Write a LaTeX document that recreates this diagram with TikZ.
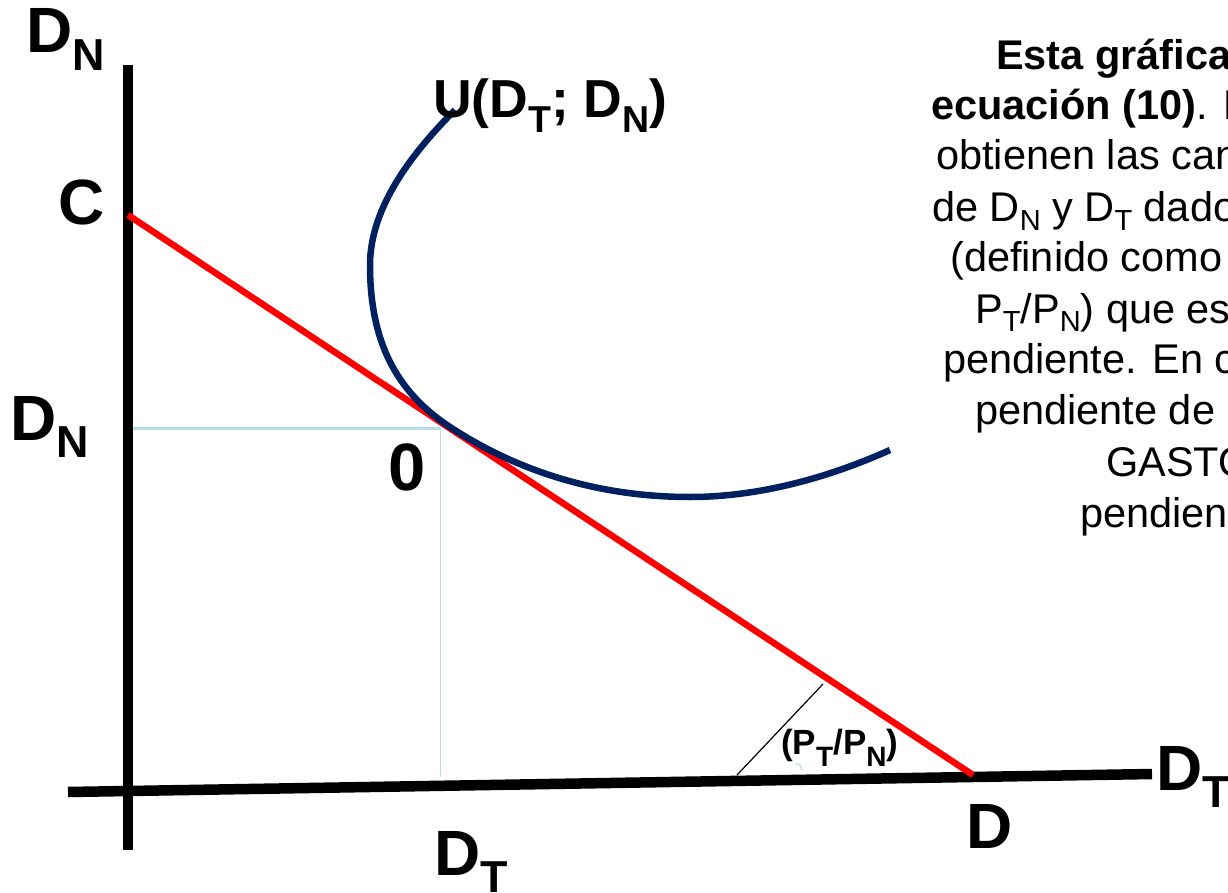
\documentclass[tikz,border=0pt]{standalone}
\usepackage{fontspec}
\usepackage{graphicx}
\setmainfont{Liberation Sans}
\definecolor{navy}{RGB}{0,32,96}
\definecolor{guideblue}{RGB}{183,221,232}
% subscript: scale, drop (em), text
\newcommand{\subs}[3]{\raisebox{-#2em}{\scalebox{#1}{#3}}}
\newcommand{\subx}[1]{\subs{0.7}{0.27}{#1}}
\newcommand{\subt}[1]{\subs{0.7}{0.2}{#1}}
\tikzset{
  axis/.style={line width=10.5pt,black},
  budget/.style={line width=6.5pt,red},
  indiff/.style={line width=6.5pt,navy},
  guide/.style={guideblue},
  biglbl/.style={inner sep=0pt,anchor=base west,font=\fontsize{64}{66}\selectfont\bfseries},
  txt/.style={inner sep=0pt,anchor=base west,font=\fontsize{41.5}{48}\selectfont},
}
\begin{document}
\begin{tikzpicture}[x=1pt,y=-1pt]
\useasboundingbox (0,0) rectangle (1228,893);
\clip (0,0) rectangle (1228,893);
% axes
\coordinate (yt) at (128,65);
\coordinate (yb) at (128,850);
\coordinate (xl) at (68,792);
\coordinate (xr) at (1152,774);
\draw[axis] (yt) -- (yb);
\draw[axis] (xl) -- (xr);
% guide lines
\coordinate (Ey) at (133,428);
\coordinate (E) at (440,428);
\coordinate (Ex) at (440,777);
\draw[guide,line width=3pt] (Ey) -- (E);
\draw[guide,line width=1pt] (E) -- (Ex);
% budget line
\coordinate (C) at (128,215);
\coordinate (Dp) at (973,775);
\draw[budget] (C) -- (Dp);
% angle line and small mark
\coordinate (a1) at (737,775);
\coordinate (a2) at (823,684);
\draw[line width=1.2pt] (a1) -- (a2);
\coordinate (m1) at (795,764);
\coordinate (m2) at (802,770);
\draw[guide,line width=1.2pt] (m1) .. controls (800,764) .. (m2);
% indifference curve
\coordinate (S) at (455,110);
\coordinate (L) at (370,265);
\coordinate (T) at (450,427);
\coordinate (B) at (690,497);
\coordinate (F) at (890,450);
\draw[indiff] (S) .. controls (416,149) and (370,205) .. (L)
  .. controls (370,340) and (395,391) .. (T)
  .. controls (540,486) and (630,497) .. (B)
  .. controls (760,497) and (830,477) .. (F);
% labels
\node[biglbl] (lDNtop) at (26,53) {D\subx{N}};
\node[biglbl] (lC) at (58,225) {C};
\node[biglbl] (lDNmid) at (10,440) {D\subx{N}};
\node[biglbl,font=\fontsize{67}{70}\selectfont\bfseries] (lzero) at (388,490) {0};
\node[biglbl] (lDTbot) at (434,875) {D\subx{T}};
\node[biglbl] (lD) at (966,848) {D};
\node[biglbl] (lDTr) at (1156,790) {D\subx{T}};
\node[inner sep=0pt,anchor=base west,font=\fontsize{53.5}{56}\selectfont\bfseries] (lU) at (433,118) {U(D\subx{T}; D\subx{N})};
\node[inner sep=0pt,anchor=base west,font=\fontsize{35}{38}\selectfont\bfseries] (lslope) at (781,754) {(P\subs{0.8}{0.35}{T}/P\subs{0.8}{0.35}{N})};
% text block
\node[txt] (t1) at (996,70) {\bfseries Esta gráfica};
\node[txt] (t2) at (931,120) {\textbf{ecuación (10)}. E};
\node[txt] (t3) at (936,170) {obtienen las can};
\node[txt] (t4) at (932,222) {de D\subt{N} y D\subt{T} dado};
\node[txt] (t5) at (950,272) {(definido como};
\node[txt] (t6) at (975,323) {P\subt{T}/P\subt{N}) que es};
\node[txt] (t7) at (943,373) {pendiente. En c};
\node[txt] (t8) at (975,424) {pendiente de};
\node[txt] (t9) at (1106,476) {GASTO};
\node[txt] (t10) at (1080,527) {pendien};
\end{tikzpicture}
\end{document}
